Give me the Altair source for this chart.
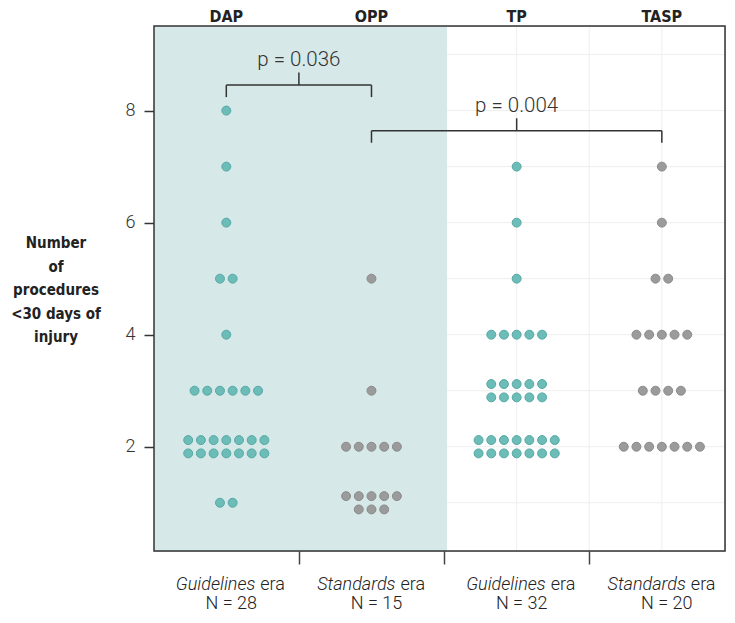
import math
import altair as alt
import pandas as pd

# ---------------- data ----------------
groups = ["DAP", "OPP", "TP", "TASP"]
eras = ["Guidelines", "Standards", "Guidelines", "Standards"]
n_labels = ["N = 28", "N = 15", "N = 32", "N = 20"]
procedure_values = [1, 2, 3, 4, 5, 6, 7, 8]
dap_counts = [2, 14, 6, 1, 2, 1, 1, 1]
opp_counts = [8, 5, 1, 0, 1, 0, 0, 0]
tp_counts = [0, 14, 10, 5, 1, 1, 1, 0]
tasp_counts = [0, 7, 4, 5, 2, 1, 1, 0]
y_ticks = [2, 4, 6, 8]
comparisons = [("DAP", "OPP", "p = 0.036"), ("OPP", "TASP", "p = 0.004")]
y_title = ["Number", "of", "procedures", "<30 days of", "injury"]

# ---------------- layout / style ----------------
W, H = 571, 525
PAD = {"left": 146, "top": 18, "right": 2, "bottom": 64}
X_DOM = [0.502, 4.435]
Y_DOM = [0.139, 9.51]
UX = (X_DOM[1] - X_DOM[0]) / W
UY = (Y_DOM[1] - Y_DOM[0]) / H
DOT_STEP = 12.7
ROW_STEP = 13.3
row_override = {("OPP", 1): [5, 3]}
bracket_levels = [8.455, 7.64]
TEAL, TEAL_EDGE = "#6cbcb8", "#55a8a4"
GREY, GREY_EDGE = "#9b9b9b", "#8a8a8a"
SHADE = "#d6e9e8"
GRID = "#eeeeee"
LIGHT_FONT = "Roboto"
BOLD_FONT = "DejaVu Sans Condensed"
FS_BOTTOM = 18
word_w = {"Guidelines": 78, "Standards": 68}
ERA_W = 25
GAP = 5
LABEL_SHIFT = 5  # px, bottom labels sit slightly right of group centre

gi_of = {g: i + 1 for i, g in enumerate(groups)}

# beeswarm-like placement of the dots
pts = []
for g, era, counts in zip(groups, eras, [dap_counts, opp_counts, tp_counts, tasp_counts]):
    gi = gi_of[g]
    for v, n in zip(procedure_values, counts):
        if n == 0:
            continue
        split = row_override.get((g, v), [n] if n <= 7 else [math.ceil(n / 2), n // 2])
        k = len(split)
        for r, m in enumerate(split):
            dy = ((k - 1) / 2 - r) * ROW_STEP
            for j in range(m):
                dx = (j - (m - 1) / 2) * DOT_STEP
                pts.append({"group": g, "era": era, "procedures": v,
                            "xp": gi + dx * UX, "yp": v + dy * UY})
pts = pd.DataFrame(pts)

xs = alt.Scale(domain=X_DOM, nice=False, zero=False)
ys = alt.Scale(domain=Y_DOM, nice=False, zero=False)

XAX = alt.Axis(values=[1.5, 2.5, 3.5], labels=False, ticks=True, tickSize=13, tickWidth=1.5,
               tickColor="#444444", domain=False, grid=False, title=None, orient="bottom")
YAX = alt.Axis(values=y_ticks, labelFont=LIGHT_FONT, labelFontWeight=300, labelFontSize=18,
               labelColor="#333333", labelPadding=9, tickSize=10, tickWidth=1.5,
               tickColor="#333333", domain=False, grid=False, title=None)


def X(f):
    return alt.X(f, scale=xs, axis=XAX)


def Y(f):
    return alt.Y(f, scale=ys, axis=YAX)


# grid
hgrid = alt.Chart(pd.DataFrame({"gy": list(range(1, 10))})).mark_rule(
    color=GRID, strokeWidth=1).encode(y=Y("gy:Q"))
vgrid = alt.Chart(pd.DataFrame({"gx": [1, 1.5, 2, 2.5, 3, 3.5, 4]})).mark_rule(
    color=GRID, strokeWidth=1).encode(x=X("gx:Q"))

# shaded left half
shade = alt.Chart(pd.DataFrame({"x0": [X_DOM[0]], "x1": [2.52]})).mark_rect(color=SHADE).encode(
    x=X("x0:Q"), x2="x1:Q", y=alt.value(0), y2=alt.value(H))

# points
points = alt.Chart(pts).mark_circle(size=80, opacity=1, strokeWidth=1).encode(
    x=X("xp:Q"), y=Y("yp:Q"),
    fill=alt.Fill("era:N", scale=alt.Scale(domain=["Guidelines", "Standards"],
                                           range=[TEAL, GREY]), legend=None),
    stroke=alt.Stroke("era:N", scale=alt.Scale(domain=["Guidelines", "Standards"],
                                               range=[TEAL_EDGE, GREY_EDGE]), legend=None),
)

# significance brackets
segs, ptxt = [], []
DROP, RISE = 12 * UY, 12.5 * UY
for (g1, g2, label), L in zip(comparisons, bracket_levels):
    a, b = gi_of[g1], gi_of[g2]
    m = (a + b) / 2
    segs += [
        {"x": a, "x2": b, "y": L, "y2": L},
        {"x": a, "x2": a, "y": L, "y2": L - DROP},
        {"x": b, "x2": b, "y": L, "y2": L - DROP},
        {"x": m, "x2": m, "y": L, "y2": L + RISE},
    ]
    ptxt.append({"x": m, "y": L, "label": label})
brackets = alt.Chart(pd.DataFrame(segs)).mark_rule(color="#333333", strokeWidth=1.5).encode(
    x=X("x:Q"), x2="x2:Q", y=Y("y:Q"), y2="y2:Q")
ptext = alt.Chart(pd.DataFrame(ptxt)).mark_text(
    font=LIGHT_FONT, fontWeight=300, fontSize=20.5, color="#333333", dy=-25,
    baseline="middle", align="center").encode(
    x=X("x:Q"), y=Y("y:Q"), text="label:N")

# group labels on top
gdf = pd.DataFrame({"group": groups, "gi": [gi_of[g] for g in groups],
                    "era": eras, "nlab": n_labels})
top = alt.Chart(gdf).mark_text(font=BOLD_FONT, fontWeight="bold", fontSize=16,
                               color="#222222", baseline="middle").encode(
    x=X("gi:Q"), y=alt.value(-9), text="group:N")

# bottom labels: italic era word + "era", then N
gdf["anchor"] = [gi + (LABEL_SHIFT + word_w[e] - (word_w[e] + GAP + ERA_W) / 2) * UX
                 for gi, e in zip(gdf["gi"], gdf["era"])]
gdf["ncenter"] = [gi + LABEL_SHIFT * UX for gi in gdf["gi"]]
gdf["era_txt"] = "era"
bot_it = alt.Chart(gdf).mark_text(font=LIGHT_FONT, fontWeight=300, fontStyle="italic",
                                  fontSize=FS_BOTTOM, color="#222222", align="right",
                                  baseline="middle").encode(
    x=X("anchor:Q"), y=alt.value(H + 34), text="era:N")
bot_era = alt.Chart(gdf).mark_text(font=LIGHT_FONT, fontWeight=300, fontSize=FS_BOTTOM,
                                   color="#222222", align="left", dx=GAP,
                                   baseline="middle").encode(
    x=X("anchor:Q"), y=alt.value(H + 34), text="era_txt:N")
bot_n = alt.Chart(gdf).mark_text(font=LIGHT_FONT, fontWeight=300, fontSize=FS_BOTTOM,
                                 color="#222222", align="center",
                                 baseline="middle").encode(
    x=X("ncenter:Q"), y=alt.value(H + 53), text="nlab:N")

# y-axis title
ytitle = alt.Chart(pd.DataFrame({"a": [0]})).mark_text(
    font=BOLD_FONT, fontWeight="bold", fontSize=15, color="#222222",
    align="center", baseline="middle", lineHeight=23.5).encode(
    x=alt.value(-98), y=alt.value(217), text=alt.value(y_title))

# frame
frame = alt.Chart(pd.DataFrame({"a": [0]})).mark_rect(
    filled=False, stroke="#333333", strokeWidth=1.5).encode(
    x=alt.value(0), x2=alt.value(W), y=alt.value(0), y2=alt.value(H))

chart = alt.layer(hgrid, vgrid, shade, points, brackets, ptext, top,
                  bot_it, bot_era, bot_n, ytitle, frame).properties(
    width=W, height=H,
    autosize=alt.AutoSizeParams(type="none"),
    padding=PAD,
).configure_view(strokeWidth=0).configure(background="white")

chart.save("out.html", embed_options={"renderer": "svg", "actions": False})
